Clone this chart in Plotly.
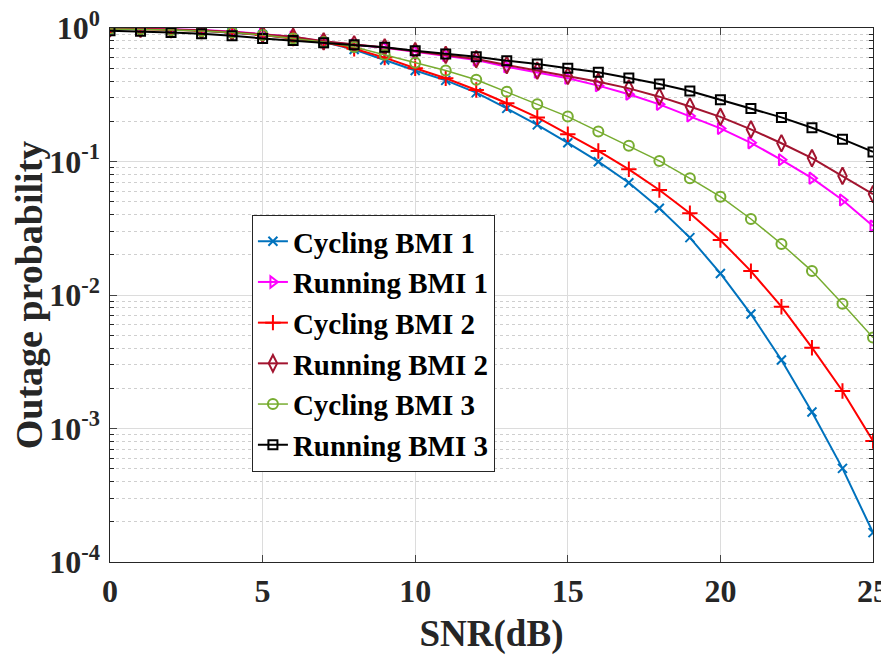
import plotly.graph_objects as go

snr = list(range(0, 26))

cycling_bmi1 = [1.0, 0.99, 0.975, 0.955, 0.925, 0.885, 0.835, 0.785, 0.69, 0.575, 0.48, 0.405, 0.328,
                0.25, 0.188, 0.138, 0.0997, 0.0694, 0.0446, 0.0269, 0.0145, 0.0072, 0.00326,
                0.00133, 0.000503, 0.000166]
running_bmi1 = [1.0, 0.99, 0.98, 0.965, 0.94, 0.905, 0.86, 0.79, 0.75, 0.71, 0.665, 0.622, 0.575,
                0.513, 0.466, 0.42, 0.37, 0.319, 0.268, 0.219, 0.177, 0.138, 0.103, 0.075,
                0.0515, 0.0329]
cycling_bmi2 = [0.99, 0.985, 0.972, 0.953, 0.925, 0.885, 0.835, 0.785, 0.70, 0.60, 0.50, 0.42,
                0.343, 0.273, 0.214, 0.16, 0.12, 0.0874, 0.0612, 0.041, 0.0258, 0.0151,
                0.00817, 0.00403, 0.00191, 0.000806]
running_bmi2 = [0.995, 0.985, 0.975, 0.96, 0.935, 0.9, 0.86, 0.795, 0.755, 0.715, 0.67, 0.63,
                0.585, 0.528, 0.479, 0.437, 0.396, 0.353, 0.306, 0.258, 0.216, 0.174, 0.137,
                0.106, 0.078, 0.057]
cycling_bmi3 = [0.985, 0.978, 0.968, 0.95, 0.925, 0.885, 0.835, 0.785, 0.72, 0.63, 0.55, 0.48,
                0.41, 0.333, 0.268, 0.217, 0.168, 0.131, 0.101, 0.0748, 0.0545, 0.0371,
                0.0241, 0.0151, 0.0086, 0.0048]
running_bmi3 = [0.955, 0.944, 0.925, 0.905, 0.875, 0.835, 0.805, 0.776, 0.75, 0.716, 0.676,
                0.639, 0.61, 0.569, 0.537, 0.499, 0.466, 0.422, 0.381, 0.337, 0.29, 0.25,
                0.214, 0.179, 0.147, 0.118]

x_ticks = [0, 5, 10, 15, 20, 25]
y_tickvals = [1e-4, 1e-3, 1e-2, 1e-1, 1]
y_ticktext = ["10<sup>-4</sup>", "10<sup>-3</sup>", "10<sup>-2</sup>", "10<sup>-1</sup>", "10<sup>0</sup>"]

series = [
    ("Cycling BMI 1", cycling_bmi1, "#0072BD", "x-thin-open", 2, 9),
    ("Running BMI 1", running_bmi1, "#FF00FF", "triangle-right-open", 2, 10),
    ("Cycling BMI 2", cycling_bmi2, "#FF0000", "cross-thin-open", 2, 11),
    ("Running BMI 2", running_bmi2, "#A2142F", "diamond-tall-open", 2, 12),
    ("Cycling BMI 3", cycling_bmi3, "#77AC30", "circle-open", 1.5, 10),
    ("Running BMI 3", running_bmi3, "#000000", "square-open", 2, 9),
]

fig = go.Figure()
for name, vals, color, sym, lw, ms in series:
    fig.add_trace(go.Scatter(
        x=snr, y=vals, name=name, mode="lines+markers",
        line=dict(color=color, width=lw),
        marker=dict(symbol=sym, size=ms, color=color, line=dict(color=color, width=2)),
    ))

minor_vals = [m * 10 ** e for e in range(-4, 0) for m in range(2, 10)]

font_fam = "Liberation Serif, Times New Roman, serif"
fig.update_layout(
    width=881, height=650,
    margin=dict(l=102, r=16, t=20, b=96),
    paper_bgcolor="white", plot_bgcolor="white",
    font=dict(family=font_fam, color="#262626"),
    showlegend=True,
    legend=dict(
        x=0.186, y=0.65, xanchor="left", yanchor="top",
        bgcolor="white", bordercolor="#262626", borderwidth=1,
        font=dict(family=font_fam, size=29, color="black", weight="bold"),
        itemwidth=30, tracegroupgap=0,
    ),
    xaxis=dict(
        range=[0, 25], tickvals=x_ticks, ticks="inside", ticklen=7, automargin=False,
        showline=True, linecolor="#262626", linewidth=1.2, mirror="ticks",
        showgrid=True, gridcolor="#dcdcdc", gridwidth=1, zeroline=False,
        tickfont=dict(family=font_fam, size=32, color="#262626", weight="bold"),
        title=dict(text="SNR(dB)", font=dict(family=font_fam, size=37, color="#262626", weight="bold"),
                   standoff=12),
    ),
    yaxis=dict(
        type="log", range=[-4, 0], tickvals=y_tickvals, ticktext=[t + "\u200a" for t in y_ticktext],
        ticks="inside", ticklen=7, automargin=False, ticklabeloverflow="allow",
        showline=True, linecolor="#262626", linewidth=1.2, mirror="ticks",
        showgrid=True, gridcolor="#dcdcdc", gridwidth=1, zeroline=False,
        tickfont=dict(family=font_fam, size=32, color="#262626", weight="bold"),
        minor=dict(tickvals=minor_vals, ticks="inside", ticklen=4, tickcolor="#262626",
                   showgrid=True, gridcolor="#cfcfcf", griddash="dot", gridwidth=1),
        title=dict(text="Outage probability", font=dict(family=font_fam, size=38, color="#262626", weight="bold"),
                   standoff=0),
    ),
)

fig.write_html("out.html")
